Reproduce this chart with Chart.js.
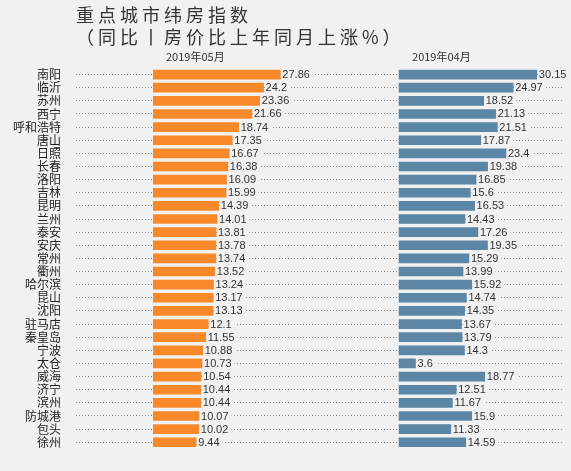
<!DOCTYPE html>
<html>
<head>
<meta charset="utf-8">
<script src="https://cdn.jsdelivr.net/npm/chart.js@4/dist/chart.umd.min.js"></script>
<style>
  html, body { margin: 0; padding: 0; background: #f1f1f1; }
  #wrap { position: relative; width: 571px; height: 471px; }
  #title {
    position: absolute; left: 76px; top: 3px;
    font-family: "Noto Sans CJK SC", sans-serif; font-size: 18px; line-height: 22px;
    letter-spacing: 4px; color: #333;
  }
  canvas { position: absolute; left: 0; top: 0; }
</style>
</head>
<body>
<div id="wrap">
  <canvas id="chart" width="571" height="471"></canvas>
  <div id="title">重点城市纬房指数<br>（同比丨房价比上年同月上涨%）</div>
</div>
<script>
// ── Data ──
const cities = ["南阳","临沂","苏州","西宁","呼和浩特","唐山","日照","长春","洛阳","吉林",
  "昆明","兰州","泰安","安庆","常州","衢州","哈尔滨","昆山","沈阳","驻马店",
  "秦皇岛","宁波","太仓","威海","济宁","滨州","防城港","包头","徐州"];
const seriesNames = ["2019年05月", "2019年04月"];
const may2019 = [27.86,24.2,23.36,21.66,18.74,17.35,16.67,16.38,16.09,15.99,
  14.39,14.01,13.81,13.78,13.74,13.52,13.24,13.17,13.13,12.1,
  11.55,10.88,10.73,10.54,10.44,10.44,10.07,10.02,9.44];
const apr2019 = [30.15,24.97,18.52,21.13,21.51,17.87,23.4,19.38,16.85,15.6,
  16.53,14.43,17.26,19.35,15.29,13.99,15.92,14.74,14.35,13.67,
  13.79,14.3,3.6,18.77,12.51,11.67,15.9,11.33,14.59];

const BG = "#f1f1f1";

// value labels + column headers
const labelPlugin = {
  id: "labels",
  afterDatasetsDraw(chart) {
    const ctx = chart.ctx;
    ctx.save();
    ctx.font = "11px 'Liberation Sans', Arial, sans-serif";
    ctx.textBaseline = "middle";
    ctx.textAlign = "left";
    chart.data.datasets.forEach((ds, i) => {
      chart.getDatasetMeta(i).data.forEach((bar, j) => {
        const txt = String(ds.data[j]);
        const w = ctx.measureText(txt).width;
        ctx.fillStyle = BG;
        ctx.fillRect(bar.x + 1, bar.y - 6, w + 4, 12);
        ctx.fillStyle = "#333";
        ctx.fillText(txt, bar.x + 2, bar.y + 0.5);
      });
    });
    // headers
    ctx.font = "11px 'Noto Sans CJK SC', sans-serif";
    ctx.fillStyle = "#333";
    const top = chart.chartArea.top - 11;
    ctx.fillText(seriesNames[0], chart.scales.x.getPixelForValue(0) + 13, top);
    ctx.fillText(seriesNames[1], chart.scales.x2.getPixelForValue(0) + 13, top);
    ctx.restore();
  }
};

new Chart(document.getElementById("chart"), {
  type: "bar",
  data: {
    labels: cities,
    datasets: [
      { label: seriesNames[0], data: may2019, xAxisID: "x", backgroundColor: "#f7892b",
        barThickness: 9, grouped: false },
      { label: seriesNames[1], data: apr2019, xAxisID: "x2", backgroundColor: "#5b86a5",
        barThickness: 9, grouped: false }
    ]
  },
  options: {
    indexAxis: "y",
    responsive: false,
    animation: false,
    layout: { padding: { top: 68, right: 8, bottom: 1, left: 0 } },
    plugins: { legend: { display: false }, tooltip: { enabled: false }, title: { display: false } },
    scales: {
      x: { display: false, min: 0, max: 89.7 },
      x2: { display: false, min: -53.83, max: 35.87 },
      y: {
        afterFit: (axis) => { axis.width = 153; },
        border: { display: false, dash: [1, 2] },
        grid: { offset: false, color: "#8a8a8a", lineWidth: 1, tickLength: 77,
          tickColor: "#8a8a8a", tickBorderDash: [1, 2] },
        ticks: { padding: 15, color: "#222", autoSkip: false,
          font: { family: "'Noto Sans CJK SC', sans-serif", size: 12 } }
      }
    }
  },
  plugins: [labelPlugin]
});
</script>
</body>
</html>
